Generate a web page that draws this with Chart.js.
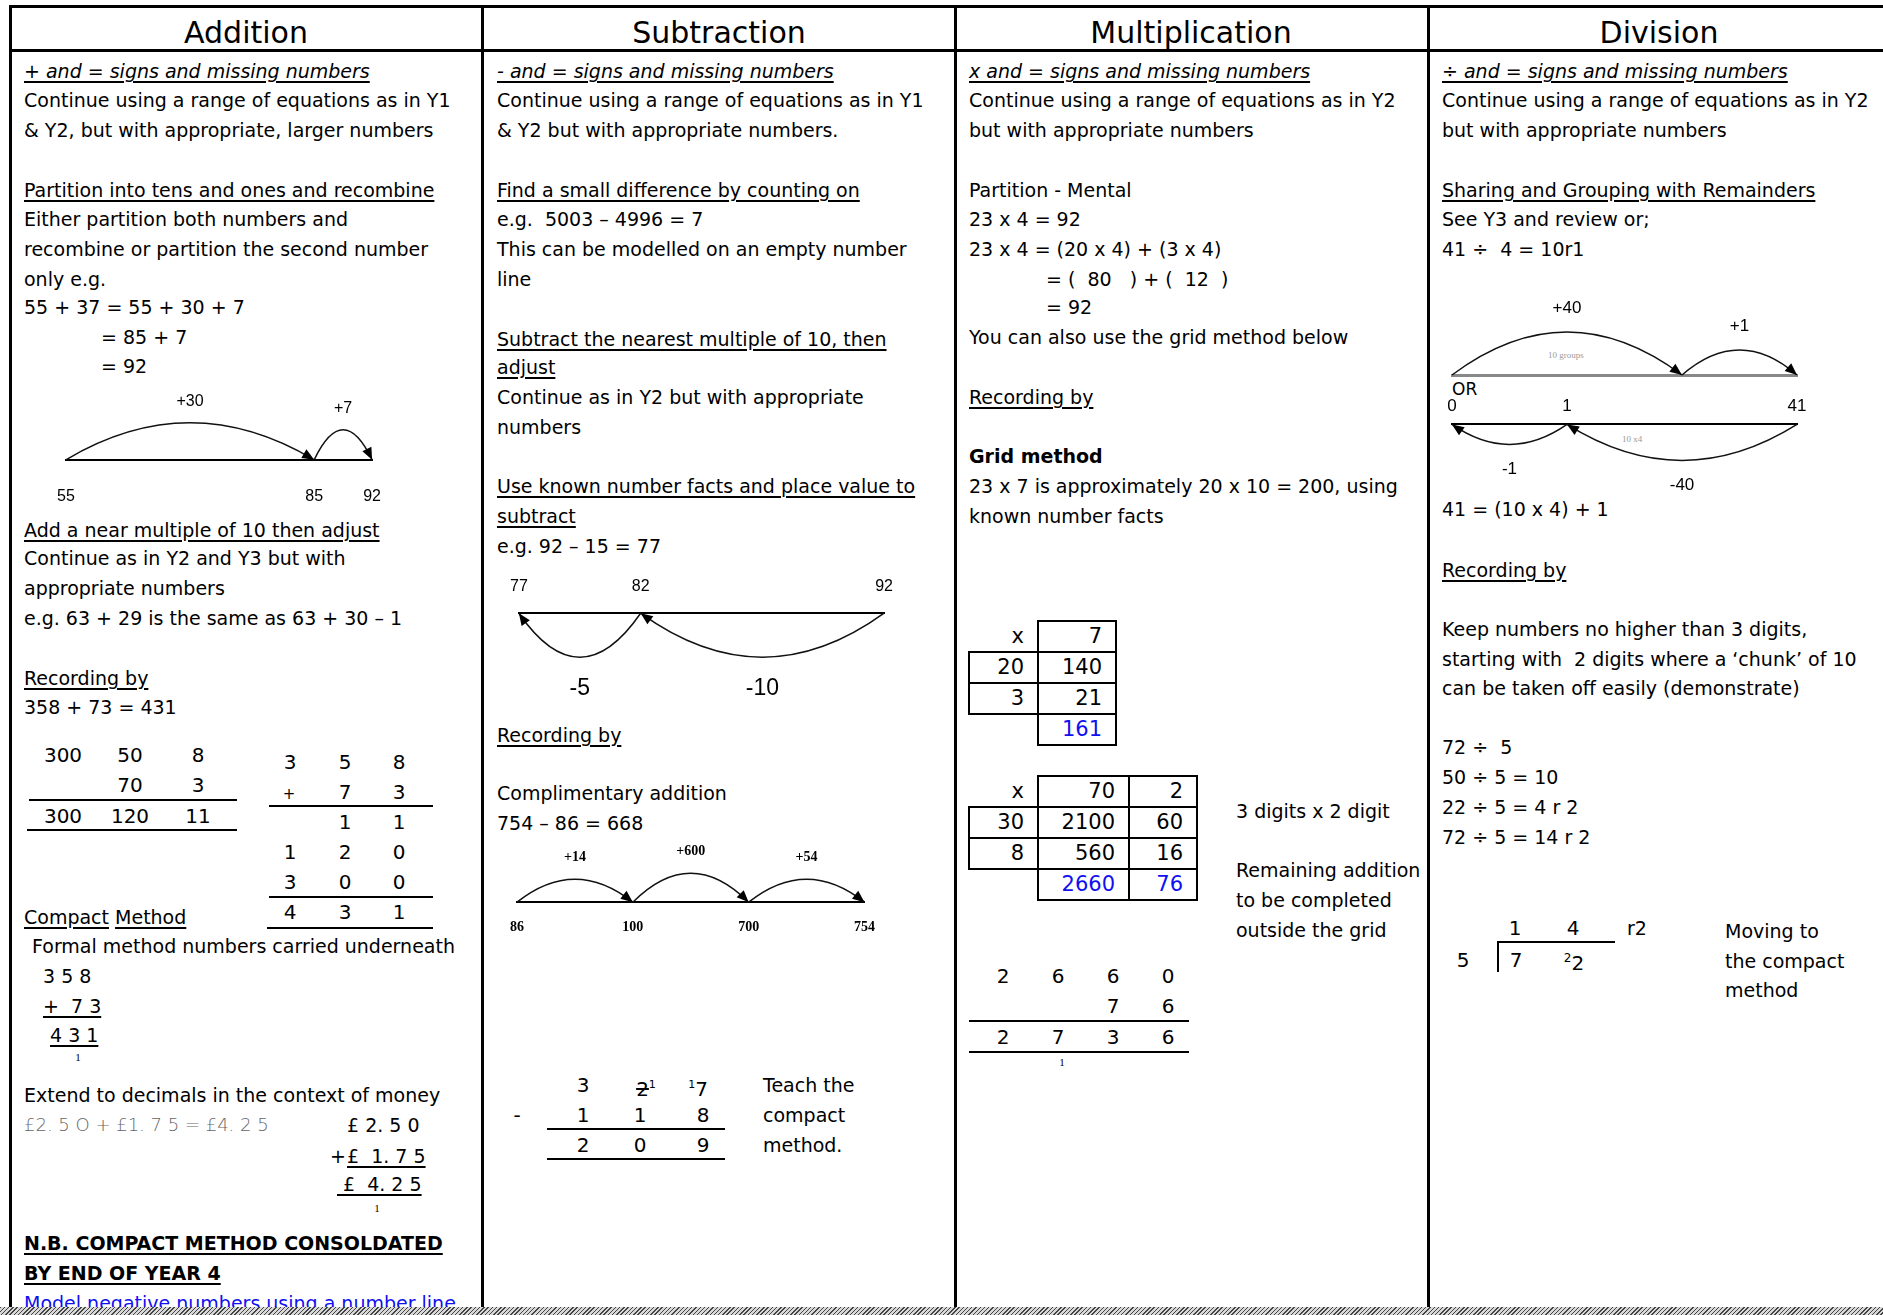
<!DOCTYPE html>
<html>
<head>
<meta charset="utf-8">
<script src="https://cdn.jsdelivr.net/npm/chart.js@4.4.1/dist/chart.umd.min.js"></script>
<style>
  html, body { margin: 0; padding: 0; background: #fff; }
  #page { position: relative; width: 1883px; height: 1315px; overflow: hidden; font-family: 'DejaVu Sans', sans-serif; color: #000; }
  .t { position: absolute; white-space: pre; font-size: 19px; line-height: 30px; }
  .h { position: absolute; font-size: 30px; line-height: 40px; top: 13px; transform: translateX(-50%); }
  .u { text-decoration: underline; text-decoration-thickness: 1.5px; text-underline-offset: 3px; }
  .i { font-style: italic; }
  .b { font-weight: bold; }
  .blue { color: #1010f0; }
  .n { font-size: 20px; transform: translateX(-50%); }
  .s { font-size: 11px; font-family: 'Liberation Serif', serif; transform: translateX(-50%); }
  .money { color: #666; font-weight: 200; font-size: 18px; }
  .tiny { font-size: 9px; color: #999; font-family: 'Liberation Serif', serif; }
  .rule { position: absolute; background: #000; }
  .cell { position: absolute; box-sizing: border-box; height: 33px; line-height: 29px; text-align: right; padding-right: 13px; font-size: 21px; border: 2px solid transparent; }
  .box { border-color: #000; }
  .band { position: absolute; left: 0; top: 1307px; width: 1883px; height: 8px; background: repeating-linear-gradient(135deg, #444 0 1px, #d8d8d8 1px 3px); }
  canvas { position: absolute; }
</style>
</head>
<body>
<div id="page"></div>
<script>
// Number line marks and hops (from, to, label)
const addMarks = [55, 85, 92];
const addHops = [[55, 85, '+30'], [85, 92, '+7']];
const subMarks = [77, 82, 92];
const subHops = [[82, 77, '-5'], [92, 82, '-10']];
const compMarks = ['86', '100', '700', '754'];
const compHops = [['86', '100', '+14'], ['100', '700', '+600'], ['700', '754', '+54']];
const divMarks = ['0', '1', '40', '41'];
const divShown = ['0', '1', '41'];
const divUpHops = [['0', '40', '+40'], ['40', '41', '+1']];
const divDownHops = [['41', '1', '-40'], ['1', '0', '-1']];

// Grid method values
const grid1Head = ['x', '7'];
const grid1Rows = [['20', '140'], ['3', '21']];
const grid1Total = ['', '161'];
const grid2Head = ['x', '70', '2'];
const grid2Rows = [['30', '2100', '60'], ['8', '560', '16']];
const grid2Total = ['', '2660', '76'];

const page = document.getElementById('page');

// Place one line of text, y is the line's centre
function put(x, y, html, cls) {
  const d = document.createElement('div');
  d.className = 't ' + (cls || '');
  d.style.left = x + 'px';
  d.style.top = (y - 15) + 'px';
  d.innerHTML = html;
  page.appendChild(d);
}

function rule(x, y, w, h) {
  const d = document.createElement('div');
  d.className = 'rule';
  d.style.left = x + 'px'; d.style.top = y + 'px';
  d.style.width = w + 'px'; d.style.height = h + 'px';
  page.appendChild(d);
}

// Table frame
rule(9, 5, 1874, 3);
rule(9, 49, 1874, 3);
[9, 481, 954, 1427].forEach(x => rule(x, 5, 3, 1305));

// Column headings
[['Addition', 246], ['Subtraction', 719], ['Multiplication', 1191], ['Division', 1659]].forEach(([txt, cx]) => {
  const d = document.createElement('div');
  d.className = 'h';
  d.style.left = cx + 'px';
  d.textContent = txt;
  page.appendChild(d);
});

// ---------- Addition ----------
put(24, 71, '+ and = signs and missing numbers', 'u i');
put(24, 100, 'Continue using a range of equations as in Y1');
put(24, 130, '& Y2, but with appropriate, larger numbers');
put(24, 190, 'Partition into tens and ones and recombine', 'u');
put(24, 219, 'Either partition both numbers and');
put(24, 249, 'recombine or partition the second number');
put(24, 279, 'only e.g.');
put(24, 307, '55 + 37 = 55 + 30 + 7');
put(101, 337, '= 85 + 7');
put(101, 366, '= 92');
put(24, 530, 'Add a near multiple of 10 then adjust', 'u');
put(24, 558, 'Continue as in Y2 and Y3 but with');
put(24, 588, 'appropriate numbers');
put(24, 618, 'e.g. 63 + 29 is the same as 63 + 30 – 1');
put(24, 678, 'Recording by', 'u');
put(24, 707, '358 + 73 = 431');

// expanded partition
[[63, 755, '300'], [130, 755, '50'], [198, 755, '8'], [130, 785, '70'], [198, 785, '3'],
 [63, 816, '300'], [130, 816, '120'], [198, 816, '11']].forEach(([x, y, v]) => put(x, y, v, 'n'));
rule(29, 799, 208, 2);
rule(27, 829, 210, 2);

// column method
[[290, 762, '3'], [345, 762, '5'], [399, 762, '8'], [345, 792, '7'], [399, 792, '3'],
 [345, 822, '1'], [399, 822, '1'], [290, 852, '1'], [345, 852, '2'], [399, 852, '0'],
 [290, 882, '3'], [345, 882, '0'], [399, 882, '0'], [290, 912, '4'], [345, 912, '3'], [399, 912, '1']]
  .forEach(([x, y, v]) => put(x, y, v, 'n'));
put(289, 792, '<span style="font-size:15px">+</span>', 'n');
rule(269, 805, 164, 2);
rule(269, 896, 164, 2);
rule(267, 927, 166, 2);

put(24, 917, '<span class="u">Compact</span> <span class="u">Method</span>');
put(32, 946, 'Formal method numbers carried underneath');
put(43, 976, '3 5 8');
put(43, 1006, '<span class="u">+  7 3</span>');
put(50, 1035, '<span class="u">4 3 1</span>');
put(78, 1057, '1', 's');
put(24, 1095, 'Extend to decimals in the context of money');
put(24, 1125, '£2. 5 O + £1. 7 5 = £4. 2 5', 'money');
put(347, 1125, '£ 2. 5 0');
put(330, 1156, '+');
put(347, 1156, '<span class="u">£  1. 7 5</span>');
put(337, 1184, '<span class="u"> £  4. 2 5</span>');
put(377, 1208, '1', 's');
put(24, 1243, 'N.B. COMPACT METHOD CONSOLDATED', 'u b');
put(24, 1273, 'BY END OF YEAR 4', 'u b');
put(24, 1303, 'Model negative numbers using a number line.', 'u blue');

// ---------- Subtraction ----------
put(497, 71, '- and = signs and missing numbers', 'u i');
put(497, 100, 'Continue using a range of equations as in Y1');
put(497, 130, '& Y2 but with appropriate numbers.');
put(497, 190, 'Find a small difference by counting on', 'u');
put(497, 219, 'e.g.  5003 – 4996 = 7');
put(497, 249, 'This can be modelled on an empty number');
put(497, 279, 'line');
put(497, 339, 'Subtract the nearest multiple of 10, then', 'u');
put(497, 367, 'adjust', 'u');
put(497, 397, 'Continue as in Y2 but with appropriate');
put(497, 427, 'numbers');
put(497, 486, 'Use known number facts and place value to', 'u');
put(497, 516, 'subtract', 'u');
put(497, 546, 'e.g. 92 – 15 = 77');
put(497, 735, 'Recording by', 'u');
put(497, 793, 'Complimentary addition');
put(497, 823, '754 – 86 = 668');

// compact subtraction
put(583, 1085, '3', 'n');
put(646, 1085, '<span style="text-decoration:line-through">2</span><sup style="font-size:11px">1</sup>', 'n');
put(698, 1085, '<sup style="font-size:11px">1</sup>7', 'n');
[[517, 1115, '-'], [583, 1115, '1'], [640, 1115, '1'], [703, 1115, '8'],
 [583, 1145, '2'], [640, 1145, '0'], [703, 1145, '9']].forEach(([x, y, v]) => put(x, y, v, 'n'));
rule(547, 1128, 178, 2);
rule(547, 1158, 178, 2);
put(763, 1085, 'Teach the');
put(763, 1115, 'compact');
put(763, 1145, 'method.');

// ---------- Multiplication ----------
put(969, 71, 'x and = signs and missing numbers', 'u i');
put(969, 100, 'Continue using a range of equations as in Y2');
put(969, 130, 'but with appropriate numbers');
put(969, 190, 'Partition - Mental');
put(969, 219, '23 x 4 = 92');
put(969, 249, '23 x 4 = (20 x 4) + (3 x 4)');
put(1046, 279, '= (  80   ) + (  12  )');
put(1046, 307, '= 92');
put(969, 337, 'You can also use the grid method below');
put(969, 397, 'Recording by', 'u');
put(969, 456, 'Grid method', 'b');
put(969, 486, '23 x 7 is approximately 20 x 10 = 200, using');
put(969, 516, 'known number facts');

function grid(x0, y0, widths, head, rows, total) {
  const all = [head, ...rows, total];
  all.forEach((row, r) => {
    let x = x0;
    row.forEach((v, c) => {
      const d = document.createElement('div');
      const boxed = !((r === 0 || r === all.length - 1) && c === 0);
      d.className = 'cell' + (boxed ? ' box' : '') + (r === all.length - 1 ? ' blue' : '');
      d.style.left = x + 'px';
      d.style.top = (y0 + r * 31) + 'px';
      d.style.width = (widths[c] + 2) + 'px';
      d.textContent = v;
      page.appendChild(d);
      x += widths[c];
    });
  });
}
grid(968, 620, [69, 78], grid1Head, grid1Rows, grid1Total);
grid(968, 775, [69, 91, 68], grid2Head, grid2Rows, grid2Total);

put(1236, 811, '3 digits x 2 digit');
put(1236, 870, 'Remaining addition');
put(1236, 900, 'to be completed');
put(1236, 930, 'outside the grid');

[[1003, 976, '2'], [1058, 976, '6'], [1113, 976, '6'], [1168, 976, '0'],
 [1113, 1006, '7'], [1168, 1006, '6'],
 [1003, 1037, '2'], [1058, 1037, '7'], [1113, 1037, '3'], [1168, 1037, '6']].forEach(([x, y, v]) => put(x, y, v, 'n'));
rule(969, 1020, 220, 2);
rule(969, 1051, 220, 2);
put(1062, 1062, '1', 's');

// ---------- Division ----------
put(1442, 71, '÷ and = signs and missing numbers', 'u i');
put(1442, 100, 'Continue using a range of equations as in Y2');
put(1442, 130, 'but with appropriate numbers');
put(1442, 190, 'Sharing and Grouping with Remainders', 'u');
put(1442, 219, 'See Y3 and review or;');
put(1442, 249, '41 ÷  4 = 10r1');
put(1452, 388, '<span style="font-size:17px">OR</span>');
put(1548, 355, '10 groups', 'tiny');
put(1622, 439, '10 x4', 'tiny');
put(1442, 509, '41 = (10 x 4) + 1');
put(1442, 570, 'Recording by', 'u');
put(1442, 629, 'Keep numbers no higher than 3 digits,');
put(1442, 659, 'starting with  2 digits where a ‘chunk’ of 10');
put(1442, 688, 'can be taken off easily (demonstrate)');
put(1442, 747, '72 ÷  5');
put(1442, 777, '50 ÷ 5 = 10');
put(1442, 807, '22 ÷ 5 = 4 r 2');
put(1442, 837, '72 ÷ 5 = 14 r 2');

// short division
[[1515, 928, '1'], [1573, 928, '4'], [1463, 960, '5'], [1516, 960, '7']].forEach(([x, y, v]) => put(x, y, v, 'n'));
put(1627, 928, 'r2');
put(1574, 958, '<sup style="font-size:12px">2</sup>2', 'n');
rule(1497, 941, 118, 2);
rule(1497, 941, 2, 31);
put(1725, 931, 'Moving to');
put(1725, 961, 'the compact');
put(1725, 990, 'method');

// ---------- Number lines (Chart.js) ----------
// lineY: page y where the number line (the x axis border) must sit
function numberLine(cfg) {
  const cv = document.createElement('canvas');
  cv.width = cfg.w; cv.height = cfg.h;
  cv.style.left = cfg.left + 'px'; cv.style.top = '0px';
  page.appendChild(cv);
  const isCat = cfg.type === 'category';
  const pos = (s, v) => isCat ? s.getPixelForValue(cfg.marks.indexOf(v)) : s.getPixelForValue(v);
  const data = { datasets: [{ data: cfg.marks.map(m => ({ x: m, y: 0 })), showLine: false, pointRadius: 0 }] };
  if (isCat) data.labels = cfg.marks;
  const xScale = {
    type: cfg.type, position: cfg.axis, offset: false,
    grid: { display: false, drawTicks: false },
    border: { display: true, color: cfg.lineColor || '#000', width: cfg.lineWidth || 2 },
    ticks: {
      display: !!cfg.tickFont, autoSkip: false, maxRotation: 0, padding: cfg.tickPad || 0,
      color: '#000', font: cfg.tickFont,
      callback: function (val) {
        const lab = isCat ? String(this.getLabelForValue(val)) : String(val);
        return cfg.shown && !cfg.shown.includes(lab) ? '' : lab;
      }
    }
  };
  if (!isCat) {
    xScale.min = cfg.marks[0];
    xScale.max = cfg.marks[cfg.marks.length - 1];
    xScale.afterBuildTicks = ax => { ax.ticks = cfg.marks.map(v => ({ value: v })); };
  }
  const chart = new Chart(cv, {
    type: 'line',
    data: data,
    options: {
      responsive: false, animation: false, events: [],
      layout: { padding: { left: 20, right: 20, top: 0, bottom: cfg.padBottom || 0 } },
      plugins: { legend: { display: false }, tooltip: { enabled: false } },
      scales: { x: xScale, y: { display: false, min: -1, max: 1 } }
    },
    plugins: [{
      id: 'hops',
      afterDraw(chart) {
        const { ctx, chartArea, scales } = chart;
        const baseY = cfg.axis === 'top' ? chartArea.top : chartArea.bottom;
        const dir = cfg.axis === 'top' ? 1 : -1;
        ctx.save();
        ctx.strokeStyle = '#111'; ctx.fillStyle = '#000'; ctx.lineWidth = 1.5;
        ctx.font = cfg.hopFont; ctx.textAlign = 'center'; ctx.textBaseline = 'middle';
        cfg.hops.forEach(([from, to, label], i) => {
          const x1 = pos(scales.x, from), x2 = pos(scales.x, to), h = cfg.heights[i];
          const cx = (x1 + x2) / 2, cy = baseY + dir * 2 * h;
          ctx.beginPath();
          ctx.moveTo(x1, baseY);
          ctx.quadraticCurveTo(cx, cy, x2, baseY);
          ctx.stroke();
          // arrow head at the landing point
          const a = Math.atan2(baseY - cy, x2 - cx), L = 12, W = 5;
          ctx.beginPath();
          ctx.moveTo(x2, baseY);
          ctx.lineTo(x2 - L * Math.cos(a) + W * Math.sin(a), baseY - L * Math.sin(a) - W * Math.cos(a));
          ctx.lineTo(x2 - L * Math.cos(a) - W * Math.sin(a), baseY - L * Math.sin(a) + W * Math.cos(a));
          ctx.closePath();
          ctx.fill();
          ctx.fillText(label, cx, baseY + dir * (h + cfg.labelGap));
        });
        ctx.restore();
      }
    }]
  });
  // move the canvas so the axis line lands on the wanted page row
  const base = cfg.axis === 'top' ? chart.chartArea.top : chart.chartArea.bottom;
  cv.style.top = Math.round(cfg.lineY - base) + 'px';
  return chart;
}

numberLine({ left: 30, lineY: 460, w: 378, h: 150, type: 'linear', marks: addMarks, axis: 'bottom',
  tickPad: 27, tickFont: { family: 'Liberation Sans', size: 16, lineHeight: 1.2 },
  hops: addHops, heights: [37, 30], labelGap: 21, hopFont: '16px "Liberation Sans"' });

numberLine({ left: 493, lineY: 613, w: 417, h: 150, type: 'linear', marks: subMarks, axis: 'top',
  tickPad: 17, tickFont: { family: 'Liberation Sans', size: 16, lineHeight: 1.2 },
  hops: subHops, heights: [44, 44], labelGap: 31, hopFont: '23px "Liberation Sans"' });

numberLine({ left: 493, lineY: 902, w: 399, h: 120, type: 'category', marks: compMarks, axis: 'bottom',
  tickPad: 17, tickFont: { family: 'Liberation Serif', size: 14, weight: 'bold', lineHeight: 1.2 },
  hops: compHops, heights: [23, 29, 23], labelGap: 22, hopFont: 'bold 14px "Liberation Serif"' });

numberLine({ left: 1432, lineY: 375, w: 385, h: 84, type: 'category', marks: divMarks, axis: 'bottom',
  padBottom: 4, lineColor: '#888', lineWidth: 3,
  hops: divUpHops, heights: [43, 25], labelGap: 24, hopFont: '17px "Liberation Sans"' });

numberLine({ left: 1432, lineY: 424, w: 385, h: 120, type: 'category', marks: divMarks, shown: divShown, axis: 'top',
  tickPad: 8, tickFont: { family: 'Liberation Sans', size: 17, lineHeight: 1.2 },
  hops: divDownHops, heights: [36, 20], labelGap: 25, hopFont: '17px "Liberation Sans"' });

// hatched bottom edge
const band = document.createElement('div');
band.className = 'band';
page.appendChild(band);
</script>
</body>
</html>
